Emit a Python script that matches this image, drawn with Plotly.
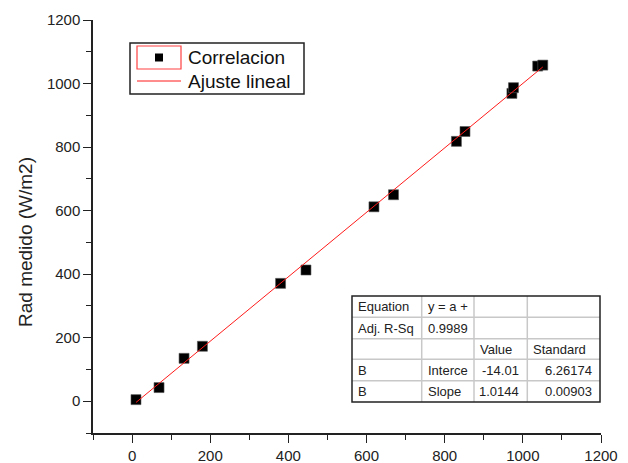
import plotly.graph_objects as go

# Measured vs. reference radiation (W/m2)
rad_ref = [10, 69, 133, 180, 380, 445, 619, 669, 830, 852, 972, 976, 1038, 1051]
rad_medido = [5, 43, 135, 173, 371, 413, 612, 650, 818, 849, 969, 987, 1055, 1058]

# Linear fit results
fit_intercept = -14.01
fit_slope = 1.0144
fit_intercept_err = 6.26174
fit_slope_err = 0.00903
fit_adj_r2 = 0.9989

x_ticks = [0, 200, 400, 600, 800, 1000, 1200]
y_ticks = [0, 200, 400, 600, 800, 1000, 1200]

W, H = 628, 463
# plot area in pixels
L, R, T, B = 93, 601, 20, 433

FONT = "Liberation Sans, Arial, sans-serif"


def px(x):
    return (x - L) / (R - L)


def py(y):
    return (B - y) / (B - T)


fit_x = [min(rad_ref), max(rad_ref)]
fit_y = [fit_intercept + fit_slope * v for v in fit_x]

fig = go.Figure()
fig.add_trace(go.Scatter(
    x=rad_ref, y=rad_medido, mode="markers", name="Correlacion",
    marker=dict(symbol="square", size=10, color="black",
                line=dict(width=0.6, color="#555")),
))
fig.add_trace(go.Scatter(
    x=fit_x, y=fit_y, mode="lines", name="Ajuste lineal",
    line=dict(color="#ff1a1a", width=1),
))

axis_common = dict(
    showgrid=False, zeroline=False, showline=True, linecolor="#222",
    linewidth=1.5, ticks="outside", ticklen=8, tickwidth=1.2,
    tickcolor="#222", tickfont=dict(family=FONT, size=15, color="#222"),
    automargin=False,
    minor=dict(ticks="outside", ticklen=5, tickwidth=1.2, tickcolor="#222",
               dtick=100, tick0=-100),
)
fig.update_xaxes(range=[-100, 1200], tickvals=x_ticks, **axis_common)
fig.update_yaxes(range=[-100, 1200], tickvals=y_ticks, **axis_common)

shapes = []
annotations = []

# y-axis title
annotations.append(dict(
    xref="paper", yref="paper", x=px(25), y=py(242), text="Rad medido (W/m2)",
    textangle=-90, showarrow=False, xanchor="center", yanchor="middle",
    font=dict(family=FONT, size=19, color="#222"),
))

# legend box
shapes.append(dict(type="rect", xref="paper", yref="paper",
                   x0=px(130), x1=px(304), y0=py(94), y1=py(43),
                   line=dict(color="#222", width=1.5), fillcolor="white"))
shapes.append(dict(type="rect", xref="paper", yref="paper",
                   x0=px(137), x1=px(181), y0=py(69), y1=py(46),
                   line=dict(color="#ff4040", width=1.2)))
shapes.append(dict(type="rect", xref="paper", yref="paper",
                   x0=px(155), x1=px(163), y0=py(61.5), y1=py(53.5),
                   line=dict(width=0), fillcolor="black"))
shapes.append(dict(type="line", xref="paper", yref="paper",
                   x0=px(137), x1=px(181), y0=py(81), y1=py(81),
                   line=dict(color="#ff1a1a", width=1)))
for label, yc in [("Correlacion", 57), ("Ajuste lineal", 81)]:
    annotations.append(dict(
        xref="paper", yref="paper", x=px(186), y=py(yc), text=label,
        showarrow=False, xanchor="left", yanchor="middle",
        font=dict(family=FONT, size=19, color="#111"),
    ))

# fit results table
col_edges = [352, 421.7, 474, 527.3, 600]
row_edges = [296, 317.3, 338.7, 359.3, 380.7, 402]
for xe in col_edges[1:-1]:
    shapes.append(dict(type="line", xref="paper", yref="paper",
                       x0=px(xe), x1=px(xe), y0=py(row_edges[0]), y1=py(row_edges[-1]),
                       line=dict(color="#c8c8c8", width=1.5)))
for ye in row_edges[1:-1]:
    shapes.append(dict(type="line", xref="paper", yref="paper",
                       x0=px(col_edges[0]), x1=px(col_edges[-1]), y0=py(ye), y1=py(ye),
                       line=dict(color="#c8c8c8", width=1.5)))
shapes.append(dict(type="rect", xref="paper", yref="paper",
                   x0=px(col_edges[0]), x1=px(col_edges[-1]),
                   y0=py(row_edges[-1]), y1=py(row_edges[0]),
                   line=dict(color="#222", width=1.5)))

cells = [
    [("Equation", "l"), ("y = a +", "l"), ("", "l"), ("", "l")],
    [("Adj. R-Sq", "l"), (f"{fit_adj_r2:.4f}", "l"), ("", "l"), ("", "l")],
    [("", "l"), ("", "l"), ("Value", "l"), ("Standard", "l")],
    [("B", "l"), ("Interce", "l"), (f"{fit_intercept:.2f}", "r"), (f"{fit_intercept_err:.5f}", "r")],
    [("B", "l"), ("Slope", "l"), (f"{fit_slope:.4f}", "r"), (f"{fit_slope_err:.5f}", "r")],
]
for ri, row in enumerate(cells):
    yc = (row_edges[ri] + row_edges[ri + 1]) / 2
    for ci, (txt, al) in enumerate(row):
        if not txt:
            continue
        if al == "l":
            xa, anchor = col_edges[ci] + 4, "left"
        else:
            xa, anchor = col_edges[ci + 1] - 6, "right"
        annotations.append(dict(
            xref="paper", yref="paper", x=px(xa), y=py(yc), text=txt,
            showarrow=False, xanchor=anchor, yanchor="middle",
            font=dict(family=FONT, size=13, color="#222"),
        ))

fig.update_layout(
    width=W, height=H, showlegend=False,
    margin=dict(l=L, r=W - R, t=T, b=H - B, pad=0, autoexpand=False),
    paper_bgcolor="white", plot_bgcolor="white",
    shapes=shapes, annotations=annotations,
)

fig.write_html("out.html")
